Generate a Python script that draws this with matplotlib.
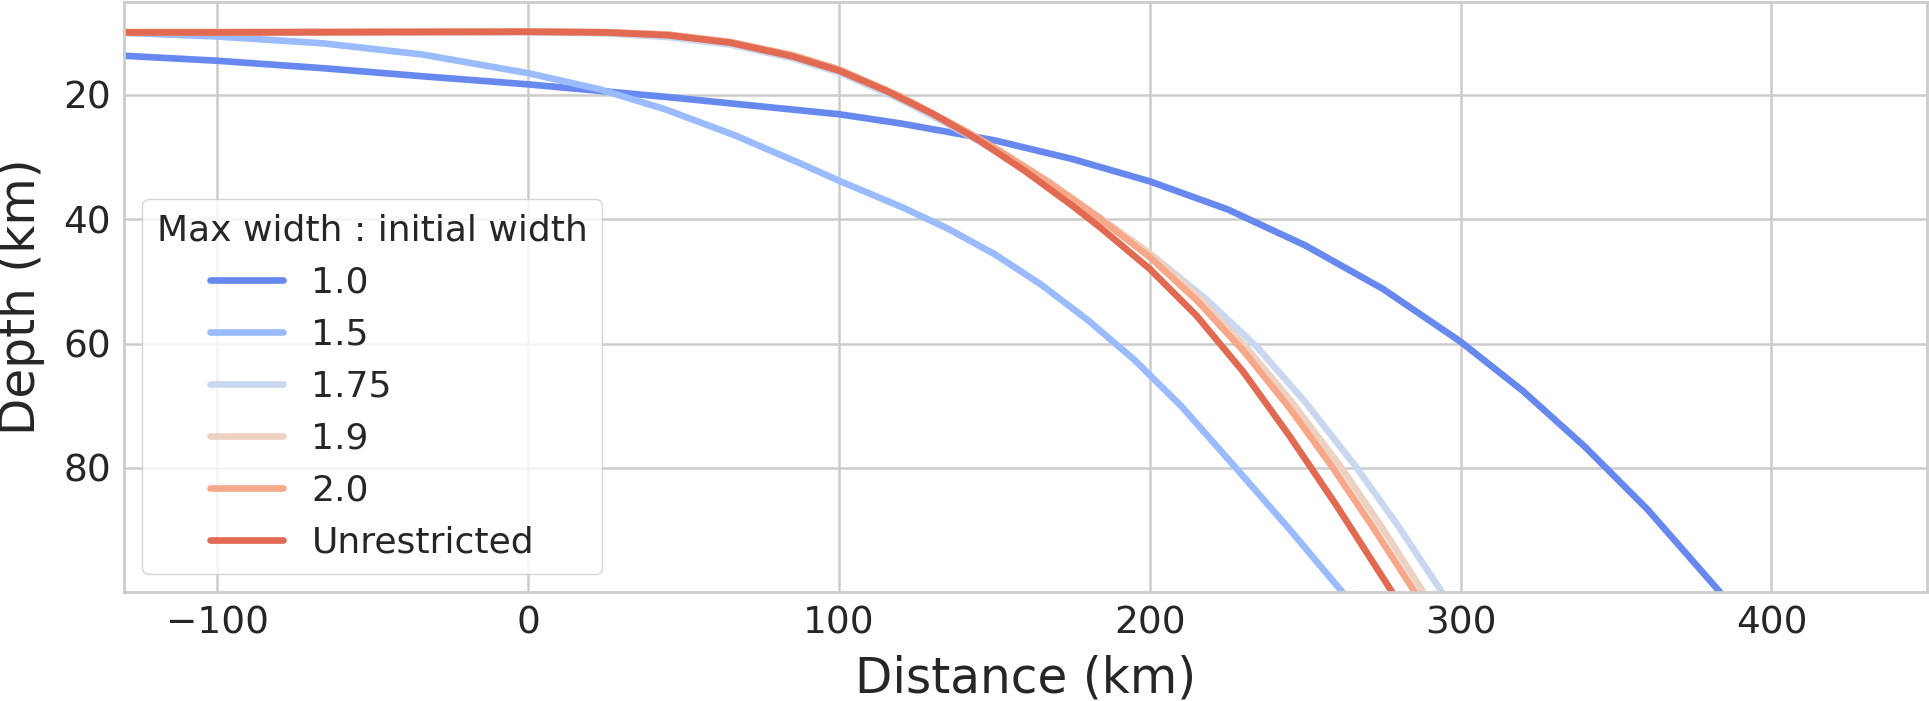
import numpy as np
import matplotlib.pyplot as plt
import seaborn as sns

# slab top depth profiles for different max width : initial width ratios
labels = ["1.0", "1.5", "1.75", "1.9", "2.0", "Unrestricted"]

x_10 = [-130, -100, -66, -34, 0, 44, 100, 120, 150, 175, 200, 225, 250, 275, 300, 320, 340, 360, 383.5]
y_10 = [13.7, 14.5, 15.7, 17.0, 18.3, 20.3, 23.1, 24.6, 27.3, 30.3, 33.9, 38.4, 44.2, 51.2, 59.7, 67.6, 76.6, 86.6, 100]

x_15 = [-130, -100, -66, -34, 0, 23, 44, 66, 87, 100, 120, 135, 150, 165, 180, 195, 210, 227, 245, 262]
y_15 = [10.0, 10.6, 11.7, 13.5, 16.5, 19.1, 22.3, 26.4, 30.9, 33.8, 38.0, 41.5, 45.6, 50.5, 56.2, 62.6, 70.0, 79.6, 89.9, 100]

x_175 = [-130, -100, -50, 0, 25, 45, 65, 85, 100, 120, 141, 160, 180, 200, 218, 234.4, 250, 266, 280, 294]
y_175 = [9.95, 9.95, 9.9, 9.9, 10.1, 10.7, 11.9, 14.1, 16.4, 20.8, 26.3, 31.9, 38.4, 45.5, 52.8, 60.5, 69.4, 79.6, 89.4, 100]

x_19 = [-130, -100, -50, 0, 25, 45, 65, 85, 100, 120, 141, 152, 168, 184, 200, 216, 231.7, 246, 261.7, 275, 288]
y_19 = [9.9, 9.9, 9.85, 9.8, 9.9, 10.3, 11.5, 13.6, 15.9, 20.3, 25.9, 29.1, 34.2, 39.8, 45.5, 52.6, 61.0, 69.6, 80, 89.8, 100]

x_20 = [-130, -100, -50, 0, 25, 45, 65, 85, 100, 120, 141, 152, 168, 184, 200, 215, 230, 245, 258.5, 272, 285.3]
y_20 = [9.9, 9.9, 9.85, 9.8, 9.9, 10.3, 11.5, 13.6, 15.9, 20.3, 25.9, 29.1, 34.2, 39.9, 46.1, 53.0, 61.1, 70.4, 79.7, 89.7, 100]

x_un = [-130, -100, -50, 0, 25, 45, 65, 85, 100, 115, 130, 145, 160, 175, 184, 200, 215, 230, 245, 260, 278]
y_un = [9.95, 9.95, 9.9, 9.85, 9.95, 10.4, 11.6, 13.8, 16.1, 19.3, 23.0, 27.3, 32.3, 37.8, 41.3, 48.0, 55.5, 64.5, 74.9, 86.0, 100]

xs = [x_10, x_15, x_175, x_19, x_20, x_un]
ys = [y_10, y_15, y_175, y_19, y_20, y_un]

sns.set_theme(style="whitegrid")
plt.rcParams['font.family'] = ['DejaVu Sans']
colors = sns.color_palette("coolwarm", 6)

fig = plt.figure(figsize=(19.29, 7.01), dpi=100)
ax = fig.add_axes([0.0644, 0.155, 0.9345, 0.8426])

for x, y, c, lab in zip(xs, ys, colors, labels):
    ax.plot(x, y, color=c, lw=4.8, label=lab)

ax.set_xlim(-130, 450)
ax.set_ylim(100, 5)
ax.set_xticks([-100, 0, 100, 200, 300, 400])
ax.set_yticks([20, 40, 60, 80])
ax.tick_params(labelsize=27)
ax.grid(lw=1.8)
for s in ax.spines.values():
    s.set_linewidth(2)
ax.set_xlabel("Distance (km)", fontsize=35, labelpad=9)
ax.set_ylabel("Depth (km)", fontsize=35, labelpad=13)

ax.legend(title="Max width : initial width", fontsize=26, title_fontsize=26,
          loc="lower left")

fig.savefig("out.png", dpi=100)
